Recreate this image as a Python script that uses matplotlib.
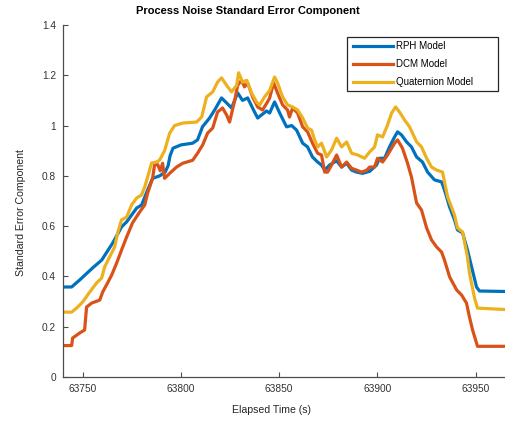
import matplotlib
matplotlib.use("Agg")
import matplotlib.pyplot as plt
from matplotlib.patches import Rectangle

plt.rcParams["font.family"] = ["Liberation Sans", "DejaVu Sans"]

# RPH model
t_rph = [63738.3, 63744.4, 63748.5, 63755.1, 63759.7, 63765.3, 63769.8, 63772.4, 63777.5,
         63780.0, 63783.1, 63785.6, 63789.2, 63792.0, 63793.5, 63794.5, 63796.0, 63800.0,
         63806.0, 63808.5, 63811.0, 63814.6, 63817.2, 63820.7, 63823.3, 63825.8, 63828.9,
         63831.4, 63834.0, 63837.5, 63839.1, 63843.6, 63845.2, 63847.7, 63850.3, 63853.8,
         63856.4, 63858.9, 63862.0, 63864.5, 63867.0, 63869.6, 63871.6, 63873.2, 63875.7,
         63879.3, 63881.8, 63884.4, 63886.9, 63889.4, 63892.5, 63896.1, 63899.6, 63901.1,
         63903.7, 63906.2, 63908.8, 63910.3, 63912.3, 63914.9, 63917.4, 63920.0, 63923.0,
         63925.6, 63929.1, 63932.7, 63934.2, 63936.8, 63939.3, 63940.8, 63943.4, 63945.9,
         63948.0, 63950.5, 63952.0, 63966.0]
v_rph = [0.358, 0.358, 0.386, 0.434, 0.465, 0.533, 0.597, 0.617, 0.672,
         0.684, 0.744, 0.790, 0.800, 0.815, 0.840, 0.880, 0.910, 0.923,
         0.930, 0.943, 0.995, 1.030, 1.062, 1.110, 1.090, 1.070, 1.130,
         1.100, 1.110, 1.054, 1.030, 1.058, 1.050, 1.094, 1.050, 0.995,
         1.000, 0.982, 0.930, 0.915, 0.875, 0.855, 0.843, 0.823, 0.843,
         0.860, 0.835, 0.850, 0.823, 0.815, 0.810, 0.818, 0.843, 0.870,
         0.870, 0.915, 0.955, 0.975, 0.963, 0.935, 0.915, 0.875, 0.855,
         0.815, 0.784, 0.776, 0.744, 0.676, 0.625, 0.585, 0.573, 0.505,
         0.438, 0.358, 0.342, 0.340]

# DCM model
t_dcm = [63738.3, 63744.4, 63744.9, 63748.5, 63751.0, 63752.0, 63754.6, 63758.7, 63760.2,
         63762.7, 63764.8, 63767.3, 63769.8, 63772.4, 63775.4, 63779.0, 63781.6, 63783.1,
         63785.6, 63786.6, 63788.2, 63789.5, 63790.7, 63791.7, 63794.3, 63797.8, 63800.9,
         63806.0, 63808.5, 63811.1, 63813.6, 63816.2, 63818.7, 63821.2, 63823.3, 63824.8,
         63827.4, 63828.9, 63830.9, 63832.4, 63834.0, 63836.5, 63839.1, 63841.6, 63844.1,
         63845.2, 63847.2, 63849.2, 63851.8, 63854.3, 63855.3, 63856.9, 63859.4, 63862.0,
         63864.5, 63867.0, 63869.6, 63871.6, 63873.2, 63874.7, 63876.7, 63879.3, 63881.8,
         63884.4, 63886.9, 63889.4, 63892.0, 63894.5, 63896.1, 63898.6, 63900.1, 63902.7,
         63905.2, 63908.8, 63910.3, 63912.8, 63915.4, 63917.4, 63920.0, 63922.5, 63925.1,
         63927.6, 63930.2, 63932.7, 63934.2, 63936.8, 63940.4, 63942.9, 63945.4, 63946.9,
         63948.5, 63951.0, 63966.0]
v_dcm = [0.125, 0.125, 0.155, 0.175, 0.187, 0.278, 0.294, 0.306, 0.338,
         0.374, 0.406, 0.453, 0.505, 0.557, 0.613, 0.656, 0.684, 0.732,
         0.790, 0.843, 0.845, 0.820, 0.850, 0.790, 0.810, 0.835, 0.850,
         0.862, 0.890, 0.923, 0.970, 0.990, 1.054, 1.070, 1.042, 1.014,
         1.100, 1.160, 1.180, 1.154, 1.170, 1.114, 1.074, 1.062, 1.094,
         1.110, 1.170, 1.130, 1.082, 1.062, 1.034, 1.070, 1.050, 0.995,
         0.975, 0.930, 0.890, 0.883, 0.815, 0.815, 0.843, 0.883, 0.835,
         0.855, 0.830, 0.823, 0.815, 0.822, 0.835, 0.835, 0.870, 0.855,
         0.883, 0.930, 0.943, 0.910, 0.850, 0.795, 0.692, 0.664, 0.593,
         0.545, 0.517, 0.497, 0.465, 0.398, 0.346, 0.326, 0.294, 0.239,
         0.187, 0.122, 0.122]

# Quaternion model
t_quat = [63738.3, 63744.4, 63746.9, 63750.0, 63753.6, 63757.1, 63759.7, 63761.2, 63763.7,
          63766.3, 63767.8, 63769.8, 63772.4, 63774.9, 63777.5, 63780.0, 63781.6, 63783.1,
          63785.1, 63787.7, 63789.2, 63791.7, 63794.3, 63796.8, 63800.9, 63808.0, 63810.6,
          63813.1, 63816.2, 63818.7, 63820.7, 63823.3, 63825.8, 63828.4, 63829.4, 63831.4,
          63833.5, 63836.0, 63838.5, 63840.1, 63842.6, 63845.2, 63847.7, 63849.2, 63851.8,
          63854.3, 63856.9, 63859.4, 63862.0, 63864.5, 63866.5, 63868.1, 63869.6, 63871.6,
          63874.2, 63876.7, 63879.3, 63881.8, 63884.4, 63886.9, 63890.0, 63893.5, 63896.1,
          63898.6, 63900.1, 63902.7, 63905.2, 63907.3, 63909.3, 63911.3, 63913.9, 63916.4,
          63920.0, 63922.5, 63925.1, 63927.6, 63930.2, 63933.2, 63935.8, 63939.3, 63940.8,
          63943.4, 63945.9, 63946.9, 63949.5, 63951.0, 63966.0]
v_quat = [0.258, 0.258, 0.274, 0.298, 0.338, 0.374, 0.394, 0.438, 0.477,
          0.517, 0.573, 0.625, 0.636, 0.684, 0.712, 0.724, 0.756, 0.796,
          0.851, 0.855, 0.863, 0.900, 0.970, 1.000, 1.010, 1.014, 1.034,
          1.114, 1.134, 1.173, 1.190, 1.160, 1.134, 1.160, 1.210, 1.173,
          1.180, 1.130, 1.094, 1.082, 1.114, 1.140, 1.193, 1.170, 1.114,
          1.082, 1.074, 1.062, 1.030, 0.990, 0.982, 0.943, 0.915, 0.930,
          0.875, 0.903, 0.950, 0.915, 0.935, 0.890, 0.883, 0.870, 0.895,
          0.915, 0.963, 0.955, 1.002, 1.050, 1.074, 1.054, 1.022, 0.995,
          0.935, 0.915, 0.870, 0.835, 0.823, 0.815, 0.716, 0.644, 0.593,
          0.577, 0.477, 0.414, 0.314, 0.274, 0.268]

labels = ["RPH Model", "DCM Model", "Quaternion Model"]
colors = ["#0072BD", "#D95319", "#EDB120"]
x_ticks = [63750, 63800, 63850, 63900, 63950]
y_ticks = [0, 0.2, 0.4, 0.6, 0.8, 1.0, 1.2, 1.4]
y_tick_labels = ["0", "0.2", "0.4", "0.6", "0.8", "1", "1.2", "1.4"]

W, H = 505, 426
fig = plt.figure(figsize=(W / 100, H / 100), dpi=100)
ax = fig.add_axes([63 / W, 1 - 377 / H, 1 - 63 / W, (377 - 25) / H])

for t, v, lab, c in zip([t_rph, t_dcm, t_quat], [v_rph, v_dcm, v_quat], labels, colors):
    ax.plot(t, v, color=c, linewidth=2.3, label=lab, solid_joinstyle="round")

ax.set_xlim(63740, 63965)
ax.set_ylim(0, 1.4)
ax.set_xticks(x_ticks)
ax.set_yticks(y_ticks)
ax.set_yticklabels(y_tick_labels)

axis_gray = "#4d4d4d"
for side in ["top", "right"]:
    ax.spines[side].set_visible(False)
for side in ["left", "bottom"]:
    ax.spines[side].set_color(axis_gray)
    ax.spines[side].set_linewidth(0.9)
ax.tick_params(direction="in", length=3.5, width=0.8, colors=axis_gray,
               labelsize=7.3, labelcolor="#333333", pad=5)

fig.text(247.5 / W, 1 - 11 / H, "Process Noise Standard Error Component",
         ha="center", va="center", fontsize=8, fontweight="bold")
fig.text(271 / W, 1 - 410 / H, "Elapsed Time (s)", ha="center", va="center",
         fontsize=7.6, color="#262626")
fig.text(21 / W, 1 - 213 / H, "Standard Error Component", ha="center", va="center",
         rotation=90, fontsize=7.6, color="#262626")

# legend box drawn separately so it can be wider than the entries (MATLAB style)
ax.add_patch(Rectangle((347 / W, 1 - 91 / H), (498 - 347) / W, (91 - 37) / H,
                       transform=fig.transFigure, clip_on=False, facecolor="white",
                       edgecolor="#262626", linewidth=0.9, zorder=4))
leg = ax.legend(loc="upper left", bbox_to_anchor=(350 / W, 1 - 38 / H),
                bbox_transform=fig.transFigure, fontsize=7, frameon=False,
                borderaxespad=0, handlelength=4.1, handletextpad=0.3,
                labelspacing=0.8, borderpad=0.35)
leg.set_zorder(5)

fig.savefig("out.png", dpi=100)
